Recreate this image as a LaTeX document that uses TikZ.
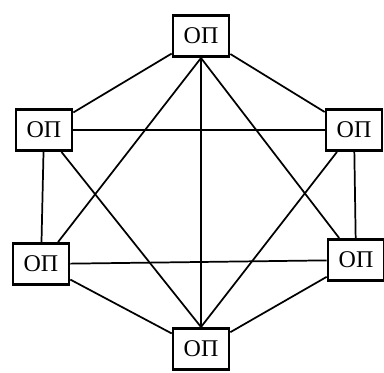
\documentclass[tikz,border=0pt]{standalone}
\usepackage{fontspec}
\setmainfont{Liberation Serif}
\begin{document}
\begin{tikzpicture}[x=0.75pt,y=-0.75pt,
  opbox/.style={draw=black, line width=2pt, fill=white, minimum width=42pt, minimum height=31pt, inner sep=0pt, font=\fontsize{18}{20}\selectfont},
  link/.style={black, line width=1.3pt}]
\useasboundingbox (0,0) rectangle (384,372);

\node[opbox] (t)  at (201,36)  {ОП};
\node[opbox] (ul) at (44,130)  {ОП};
\node[opbox] (ur) at (354,130) {ОП};
\node[opbox] (ll) at (41,264)  {ОП};
\node[opbox] (lr) at (356,260) {ОП};
\node[opbox] (b)  at (201,349) {ОП};

% 六边形
\draw[link] (t) -- (ul);
\draw[link] (t) -- (ur);
\draw[link] (ul) -- (ll);
\draw[link] (ur) -- (lr);
\draw[link] (ll) -- (b);
\draw[link] (lr) -- (b);

% 两个三角形和竖线
\draw[link] (t.south) -- (ll);
\draw[link] (t.south) -- (lr);
\draw[link] (ll) -- (lr);
\draw[link] (b.north) -- (ul);
\draw[link] (b.north) -- (ur);
\draw[link] (ul) -- (ur);
\draw[link] (t.south) -- (b.north);

\end{tikzpicture}
\end{document}
